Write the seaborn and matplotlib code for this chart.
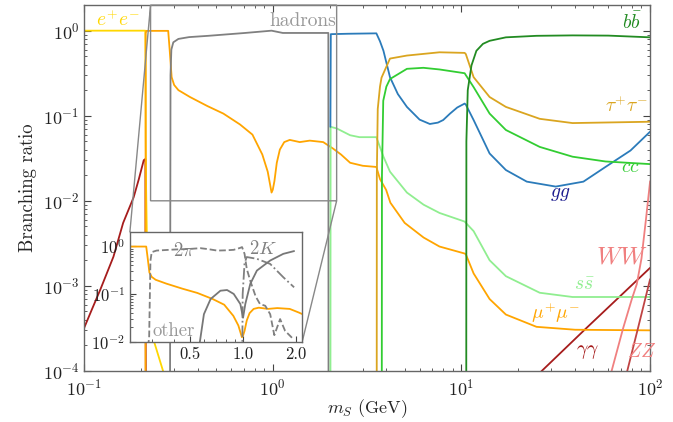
import matplotlib
matplotlib.use('Agg')
import matplotlib.pyplot as plt
import matplotlib.ticker as mticker
import seaborn as sns

# ---- data (m_S in GeV, branching ratio) ----
ee_x = [0.1, 0.211, 0.2115, 0.212, 0.213, 0.215, 0.22, 0.235, 0.262, 0.28]
ee_y = [1.0, 1.0, 0.45, 0.056, 0.015, 4e-3, 1.1e-3, 2.2e-4, 1.0e-4, 7e-5]

mumu_x = [0.2114, 0.212, 0.214, 0.279, 0.284, 0.291, 0.30, 0.316, 0.364, 0.45, 0.547,
          0.67, 0.78, 0.88, 0.94, 0.985, 1.0, 1.02, 1.05, 1.09, 1.15, 1.23, 1.39, 1.57,
          1.85, 2.09, 2.3, 2.57, 3.0, 3.54, 3.7, 3.99, 4.2, 5.0, 6.3, 7.65, 10.4, 10.55,
          11.6, 14.1, 17.2, 25, 40, 100]
mumu_y = [1e-5, 0.94, 0.995, 0.995, 0.6, 0.284, 0.23, 0.2, 0.166, 0.13, 0.106,
          0.079, 0.06, 0.035, 0.022, 0.0125, 0.0135, 0.017, 0.028, 0.040, 0.049, 0.052,
          0.049, 0.051, 0.049, 0.041, 0.035, 0.028, 0.0258, 0.025, 0.018, 0.0134, 0.0095,
          5.5e-3, 3.7e-3, 2.9e-3, 2.4e-3, 2.35e-3, 1.4e-3, 7.0e-4, 4.6e-4, 3.3e-4, 3.05e-4, 3.0e-4]

tautau_x = [3.554, 3.56, 3.6, 3.7, 3.77, 4.18, 5.14, 7.65, 10.4, 10.55, 11.6, 14.1,
            17.2, 26, 38.8, 100]
tautau_y = [1e-5, 0.02, 0.12, 0.22, 0.28, 0.47, 0.51, 0.557, 0.548, 0.53, 0.284, 0.166,
            0.127, 0.092, 0.082, 0.085]

had_x = [0.285, 0.287, 0.29, 0.297, 0.316, 0.36, 0.455, 0.713, 0.985, 1.13, 1.5, 1.97, 1.975]
had_y = [1e-5, 0.3, 0.6, 0.73, 0.8, 0.84, 0.87, 0.94, 1.0, 0.94, 0.94, 0.94, 1e-5]

gg_x = [2.02, 2.03, 2.5, 3.54, 3.7, 3.86, 4.18, 4.6, 5.14, 6.0, 6.8, 7.5, 8.0, 8.7, 9.5,
        10.4, 10.55, 11.6, 14.1, 17.2, 22.2, 31.6, 44.3, 58, 78.7, 100]
gg_y = [0.074, 0.91, 0.92, 0.93, 0.75, 0.58, 0.284, 0.18, 0.127, 0.09, 0.08, 0.083, 0.089,
        0.106, 0.125, 0.139, 0.135, 0.089, 0.036, 0.023, 0.0168, 0.0147, 0.0168, 0.025,
        0.039, 0.065]

ss_x = [2.02, 2.025, 2.18, 2.57, 2.88, 3.54, 3.86, 4.18, 5.14, 6.3, 7.65, 10.4, 10.55,
        11.6, 14.1, 17.2, 26, 38.8, 100]
ss_y = [1e-5, 0.074, 0.071, 0.059, 0.056, 0.056, 0.033, 0.022, 0.0125, 9e-3, 7.2e-3,
        5.7e-3, 5.5e-3, 4.4e-3, 2.0e-3, 1.3e-3, 8.3e-4, 7.4e-4, 7.4e-4]

cc_x = [3.78, 3.79, 3.85, 4.0, 4.18, 5.14, 6.28, 7.65, 10.4, 10.55, 11.6, 14.1, 17.2,
        26, 38.8, 58, 100]
cc_y = [1e-5, 0.02, 0.15, 0.22, 0.27, 0.356, 0.366, 0.35, 0.316, 0.3, 0.217, 0.106,
        0.068, 0.043, 0.033, 0.029, 0.027]

bb_x = [10.6, 10.62, 10.8, 11.3, 12.0, 13.0, 14.1, 17.2, 25, 38.8, 60, 100]
bb_y = [1e-5, 0.05, 0.2, 0.39, 0.58, 0.7, 0.76, 0.835, 0.87, 0.88, 0.875, 0.835]

gamgam_lo_x = [0.1, 0.11, 0.122, 0.143, 0.161, 0.183, 0.195, 0.207, 0.2113, 0.2116, 0.2125]
gamgam_lo_y = [3.2e-4, 5.3e-4, 9.1e-4, 2.2e-3, 5.5e-3, 0.011, 0.018, 0.03, 0.031, 1e-3, 5e-5]
gamgam_hi_x = [24, 46, 100]
gamgam_hi_y = [8e-5, 3.2e-4, 1.63e-3]

ww_x = [60, 62.5, 72, 80, 85, 90, 95, 100]
ww_y = [7e-5, 1e-4, 3.2e-4, 7e-4, 1.05e-3, 2.1e-3, 6e-3, 0.017]

zz_x = [73, 86.6, 100]
zz_y = [7.3e-5, 3.3e-4, 1.2e-3]

# inset: exclusive hadronic channels
pipi_x = [0.28, 0.29, 0.295, 0.30, 0.32, 0.4, 0.5, 0.57, 0.63, 0.71, 0.8, 0.884, 0.96,
          0.987, 1.0, 1.02, 1.05, 1.1, 1.18, 1.25, 1.34, 1.43, 1.51, 1.63, 1.74, 1.94]
pipi_y = [0.005, 0.012, 0.5, 0.76, 0.82, 0.86, 0.89, 0.92, 0.88, 0.82, 0.83, 0.85, 0.93,
          0.97, 0.85, 0.70, 0.34, 0.19, 0.09, 0.062, 0.057, 0.038, 0.0138, 0.030, 0.017, 0.0114]

kk_x = [0.99, 0.995, 1.02, 1.05, 1.2, 1.43, 1.70, 1.96]
kk_y = [0.005, 0.1, 0.45, 0.6, 0.55, 0.43, 0.226, 0.139]

other_x = [0.55, 0.566, 0.597, 0.652, 0.742, 0.81, 0.884, 0.965, 1.0, 1.03, 1.1, 1.2,
           1.43, 1.70, 1.96]
other_y = [0.005, 0.01, 0.038, 0.079, 0.118, 0.122, 0.101, 0.062, 0.032, 0.062, 0.164,
           0.312, 0.507, 0.70, 0.80]

# ---- style ----
sns.set_style('ticks')
plt.rcParams['font.family'] = 'serif'
plt.rcParams['font.serif'] = ['cmr10']
plt.rcParams['mathtext.fontset'] = 'cm'
plt.rcParams['axes.formatter.use_mathtext'] = True
plt.rcParams['axes.edgecolor'] = '#666666'
plt.rcParams['axes.linewidth'] = 1.0

LW = 1.3


def line(ax, x, y, **kw):
    sns.lineplot(x=x, y=y, ax=ax, estimator=None, sort=False, legend=False,
                 linewidth=kw.pop('lw', LW), **kw)


fig = plt.figure(figsize=(6.73, 4.22), dpi=100)
ax = fig.add_axes([0.125, 0.121, 0.841, 0.867])

line(ax, gamgam_lo_x, gamgam_lo_y, color='#a61c1c')
line(ax, gamgam_hi_x, gamgam_hi_y, color='#a61c1c')
line(ax, ee_x, ee_y, color='#FFD700')
line(ax, mumu_x, mumu_y, color='#FFA500')
line(ax, had_x, had_y, color='#808080')
line(ax, ss_x, ss_y, color='#90EE90')
line(ax, gg_x, gg_y, color='#2b7bba')
line(ax, tautau_x, tautau_y, color='#DAA520')
line(ax, cc_x, cc_y, color='#32CD32')
line(ax, bb_x, bb_y, color='#228B22')
line(ax, ww_x, ww_y, color='#F08080')
line(ax, zz_x, zz_y, color='#C04444')

ax.set_xscale('log')
ax.set_yscale('log')
ax.set_xlim(0.1, 100)
ax.set_ylim(1e-4, 2)
ax.set_xlabel('$m_S$ (GeV)', fontsize=13)
ax.xaxis.set_label_coords(0.5, -0.072)
ax.set_ylabel('Branching ratio', fontsize=13.5)
ax.tick_params(which='both', direction='in', top=True, right=True, colors='#444444',
               labelcolor='#222222', labelsize=13)
ax.tick_params(which='major', length=5)
ax.tick_params(which='minor', length=2.5)
ax.tick_params(axis='x', which='major', pad=5)

fs = 14
ax.text(0.151, 1.03, '$e^{+}e^{-}$', color='#FFD700', fontsize=fs, ha='center', va='bottom')
ax.text(1.45, 1.03, 'hadrons', color='#999999', fontsize=fs, ha='center', va='bottom')
ax.text(80, 0.93, r'$b\bar{b}$', color='#228B22', fontsize=fs, ha='center', va='bottom')
ax.text(75, 0.1, r'$\tau^{+}\tau^{-}$', color='#DAA520', fontsize=fs, ha='center', va='bottom')
ax.text(79, 0.0195, '$cc$', color='#32CD32', fontsize=fs, ha='center', va='bottom')
ax.text(33.5, 0.0093, '$gg$', color='#1c1c8f', fontsize=fs, ha='center', va='bottom')
ax.text(70.5, 1.6e-3, '$WW$', color='#F08080', fontsize=18, ha='center', va='bottom')
ax.text(45, 8.0e-4, r'$s\bar{s}$', color='#90EE90', fontsize=fs, ha='center', va='bottom')
ax.text(31.6, 3.5e-4, r'$\mu^{+}\mu^{-}$', color='#FFA500', fontsize=fs, ha='center', va='bottom')
ax.text(46.3, 1.3e-4, r'$\gamma\gamma$', color='#a61c1c', fontsize=fs, ha='center', va='bottom')
ax.text(90, 1.3e-4, '$ZZ$', color='#F08080', fontsize=fs, ha='center', va='bottom')

# ---- inset ----
axins = fig.add_axes([0.193, 0.19, 0.256, 0.26])
line(axins, mumu_x, mumu_y, color='#FFA500')
line(axins, pipi_x, pipi_y, color='#808080', linestyle='--')
line(axins, kk_x, kk_y, color='#808080', linestyle='-.')
line(axins, other_x, other_y, color='#777777')
axins.set_xscale('log')
axins.set_yscale('log')
axins.set_xlim(0.225, 2.18)
axins.set_ylim(1e-2, 2)
axins.xaxis.set_major_locator(mticker.FixedLocator([0.5, 1.0, 2.0]))
axins.xaxis.set_major_formatter(mticker.FixedFormatter(['0.5', '1.0', '2.0']))
axins.xaxis.set_minor_formatter(mticker.NullFormatter())
axins.tick_params(which='both', direction='in', colors='#444444', labelcolor='#222222',
                  labelsize=12)
axins.tick_params(which='major', length=4)
axins.tick_params(which='minor', length=2)
axins.set_facecolor('white')
axins.text(0.46, 0.52, r'$2\pi$', color='#808080', fontsize=13.5, ha='center', va='bottom')
axins.text(1.3, 0.58, '$2K$', color='#808080', fontsize=13.5, ha='center', va='bottom')
axins.text(0.40, 0.011, 'other', color='#999999', fontsize=13.5, ha='center', va='bottom')

ax.indicate_inset_zoom(axins, edgecolor='#888888', alpha=1.0, linewidth=1.0)

fig.savefig('out.png', dpi=100)
